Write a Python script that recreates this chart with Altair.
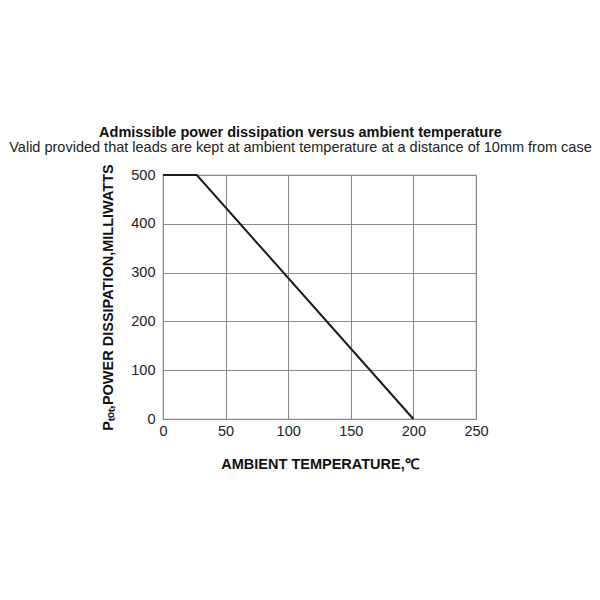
import altair as alt
import pandas as pd

temps = [0, 27, 200]
power = [500, 500, 0]
x_ticks = [0, 50, 100, 150, 200, 250]
y_ticks = [0, 100, 200, 300, 400, 500]

df = pd.DataFrame({"t": temps, "p": power})

FS = 14.5

chart = alt.Chart(df).mark_line(color="#1a1a1a", strokeWidth=2).encode(
    x=alt.X("t:Q", scale=alt.Scale(domain=[0, 250], nice=False),
            axis=alt.Axis(values=x_ticks, title="AMBIENT TEMPERATURE,℃",
                          titleFontWeight="bold", titleFontSize=FS, titlePadding=20,
                          labelFontSize=FS, ticks=False, labelPadding=5, labelFlush=False,
                          titleColor="#111", labelColor="#222")),
    y=alt.Y("p:Q", scale=alt.Scale(domain=[0, 500], nice=False),
            axis=alt.Axis(values=y_ticks, title="Pₜₒₜ,POWER DISSIPATION,MILLIWATTS",
                          titleFontWeight="bold", titleFontSize=FS, titlePadding=15,
                          labelFontSize=FS, ticks=False, labelPadding=8, labelFlush=False,
                          titleColor="#111", labelColor="#222")),
).properties(
    width=313, height=244,
    title=alt.TitleParams(
        text="Admissible power dissipation versus ambient temperature",
        subtitle="Valid provided that leads are kept at ambient temperature at a distance of 10mm from case",
        fontSize=FS, fontWeight="bold", subtitleFontSize=FS, color="#111",
        subtitleColor="#222", anchor="middle", dx=-19, offset=8, subtitlePadding=1,
        font="Liberation Sans", subtitleFont="Liberation Sans"),
    autosize=alt.AutoSizeParams(type="none"),
    padding={"left": 155, "top": 167, "right": 116, "bottom": 100},
).configure_axis(
    gridColor="#8a8a8a", gridWidth=1, gridOpacity=1,
    domainColor="#8a8a8a", labelFont="Liberation Sans", titleFont="Liberation Sans",
).configure_view(stroke="#8a8a8a", strokeWidth=1.2)

chart.save("out.html", embed_options={"renderer": "svg", "actions": False})
